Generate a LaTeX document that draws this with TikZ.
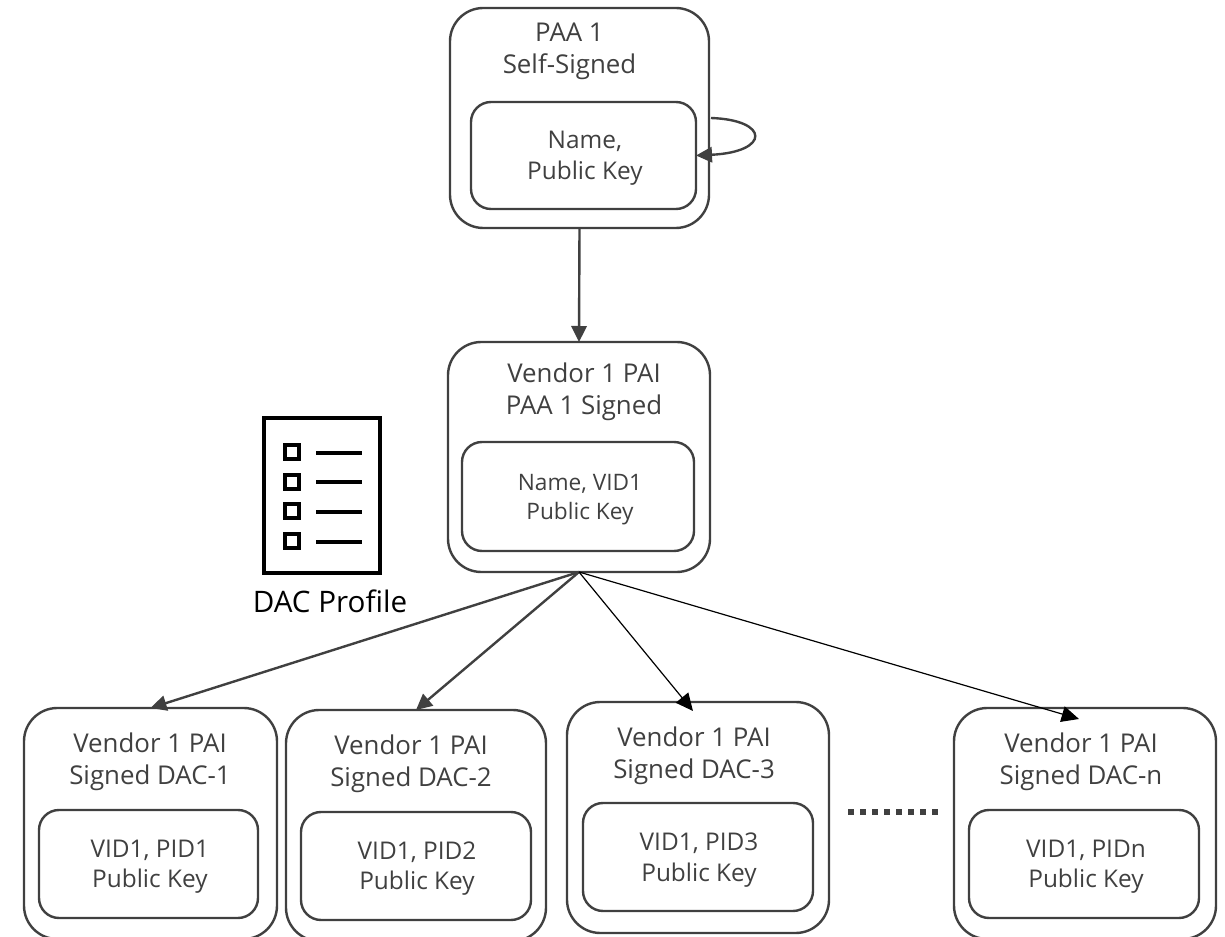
\documentclass[tikz,border=0pt]{standalone}
\usepackage{fontspec}
\setmainfont{Open Sans}
\usetikzlibrary{arrows.meta}
\definecolor{ink}{HTML}{404040}
\newcommand{\nudge}[1]{\hspace*{#1pt}}
\newcommand{\dropline}[1]{\rule{0pt}{#1pt}}
\tikzset{
  outerbox/.style={draw=ink,line width=1.8pt,rounded corners=25pt,inner sep=0pt,outer sep=0pt,minimum height=165pt},
  innerbox/.style={draw=ink,line width=1.8pt,rounded corners=15pt,inner sep=0pt,outer sep=0pt,minimum height=81pt,align=center,text=ink,font=\fontsize{18.3}{22.8}\selectfont},
  smallbox/.style={innerbox,font=\fontsize{17}{21.5}\selectfont},
  titletext/.style={align=center,text=ink,inner sep=0pt,font=\fontsize{19.4}{24}\selectfont},
  heavyarrow/.style={draw=ink,line width=1.8pt,-{Triangle[length=12pt,width=11.5pt]}},
  thinarrow/.style={draw=black,line width=.9pt,-{Triangle[length=13pt,width=12pt]}},
  iconline/.style={draw=black,line width=3pt},
  iconbox/.style={draw=black,line width=3pt,inner sep=0pt,outer sep=0pt,minimum size=10.5pt},
}
\begin{document}
\begin{tikzpicture}[x=.75pt,y=-.75pt]
\useasboundingbox (0,0) rectangle (1225,937);
\clip (0,0) rectangle (1225,937);
% top
\node[outerbox,minimum width=194.25pt] (paa) at (579.5,118) {};
\node[innerbox,minimum width=168.75pt,minimum height=80.25pt] (paainner) at (583.5,155.5) {\dropline{17}\nudge{2}Name,\\\nudge{2}Public Key};
\node[titletext] (paatitle) at (569.5,51) {PAA 1\\Self-Signed};
% PAI
\node[outerbox,minimum width=196.5pt,minimum height=172.5pt] (pai) at (579,457) {};
\node[smallbox,minimum width=174pt,minimum height=81.75pt] (paiinner) at (578,496.5) {\dropline{16.5}\nudge{3}Name, VID1\\\nudge{3}Public Key};
\node[titletext] (paititle) at (584,392) {Vendor 1 PAI\\PAA 1 Signed};
% DACs
\node[outerbox,minimum width=189.75pt,minimum height=173.25pt] (d1) at (150.5,823.5) {};
\node[innerbox,minimum width=164.25pt] (d1inner) at (148.5,864) {\dropline{17}\nudge{2}VID1, PID1\\\nudge{2}Public Key};
\node[titletext] (d1title) at (150,762) {Vendor 1 PAI\\Signed DAC-1};
\node[outerbox,minimum width=195pt,minimum height=173.25pt] (d2) at (416,825.5) {};
\node[innerbox,minimum width=172.5pt] (d2inner) at (416,866) {\dropline{17}\nudge{1.5}VID1, PID2\\\nudge{1.5}Public Key};
\node[titletext] (d2title) at (411,764) {Vendor 1 PAI\\Signed DAC-2};
\node[outerbox,minimum width=196.5pt,minimum height=173.25pt] (d3) at (698,817.5) {};
\node[innerbox,minimum width=172.5pt] (d3inner) at (698,857) {\dropline{18}\nudge{1.5}VID1, PID3\\\nudge{1.5}Public Key};
\node[titletext] (d3title) at (694,756) {Vendor 1 PAI\\Signed DAC-3};
\node[outerbox,minimum width=196.5pt,minimum height=173.25pt] (dn) at (1085,823.5) {};
\node[innerbox,minimum width=172.5pt] (dninner) at (1084,864) {\dropline{17}\nudge{3}VID1, PIDn\\\nudge{3}Public Key};
\node[titletext] (dntitle) at (1081,762) {Vendor 1 PAI\\Signed DAC-n};
% connector ends
\coordinate (loopstart) at (711,118);
\coordinate (d3tip) at (693,711);
\coordinate (dntip) at (1079,719);
\coordinate (dotsa) at (848,812);
\coordinate (dotsb) at (938,812);
% connectors
\draw[heavyarrow] (paa.south) -- (pai.north);
\draw[heavyarrow] (loopstart) .. controls (770,120) and (770,152) .. (paainner.east);
\draw[heavyarrow] (pai.south) -- (d1.north);
\draw[heavyarrow] (pai.south) -- (d2.north);
\draw[thinarrow] (pai.south) -- (d3tip);
\draw[thinarrow] (pai.south) -- (dntip);
\draw[draw=ink,line width=4.5pt,dash pattern=on 4.5pt off 4.5pt] (dotsa) -- (dotsb);
% DAC profile icon
\node[draw=black,line width=3pt,inner sep=0pt,outer sep=0pt,minimum width=87pt,minimum height=116pt] (sheet) at (322,495.5) {};
\node[iconbox] (c1) at (291.5,452.5) {};
\node[iconbox] (c2) at (291.5,482) {};
\node[iconbox] (c3) at (291.5,511.5) {};
\node[iconbox] (c4) at (291.5,541.5) {};
\coordinate (l1a) at (316,453); \coordinate (l1b) at (362,453);
\coordinate (l2a) at (316,482); \coordinate (l2b) at (362,482);
\coordinate (l3a) at (316,512); \coordinate (l3b) at (362,512);
\coordinate (l4a) at (316,542); \coordinate (l4b) at (362,542);
\draw[iconline] (l1a) -- (l1b);
\draw[iconline] (l2a) -- (l2b);
\draw[iconline] (l3a) -- (l3b);
\draw[iconline] (l4a) -- (l4b);
\node[inner sep=0pt,text=black,font=\fontsize{22.2}{26}\selectfont] (daclabel) at (330,601) {DAC Profile};
\end{tikzpicture}
\end{document}
